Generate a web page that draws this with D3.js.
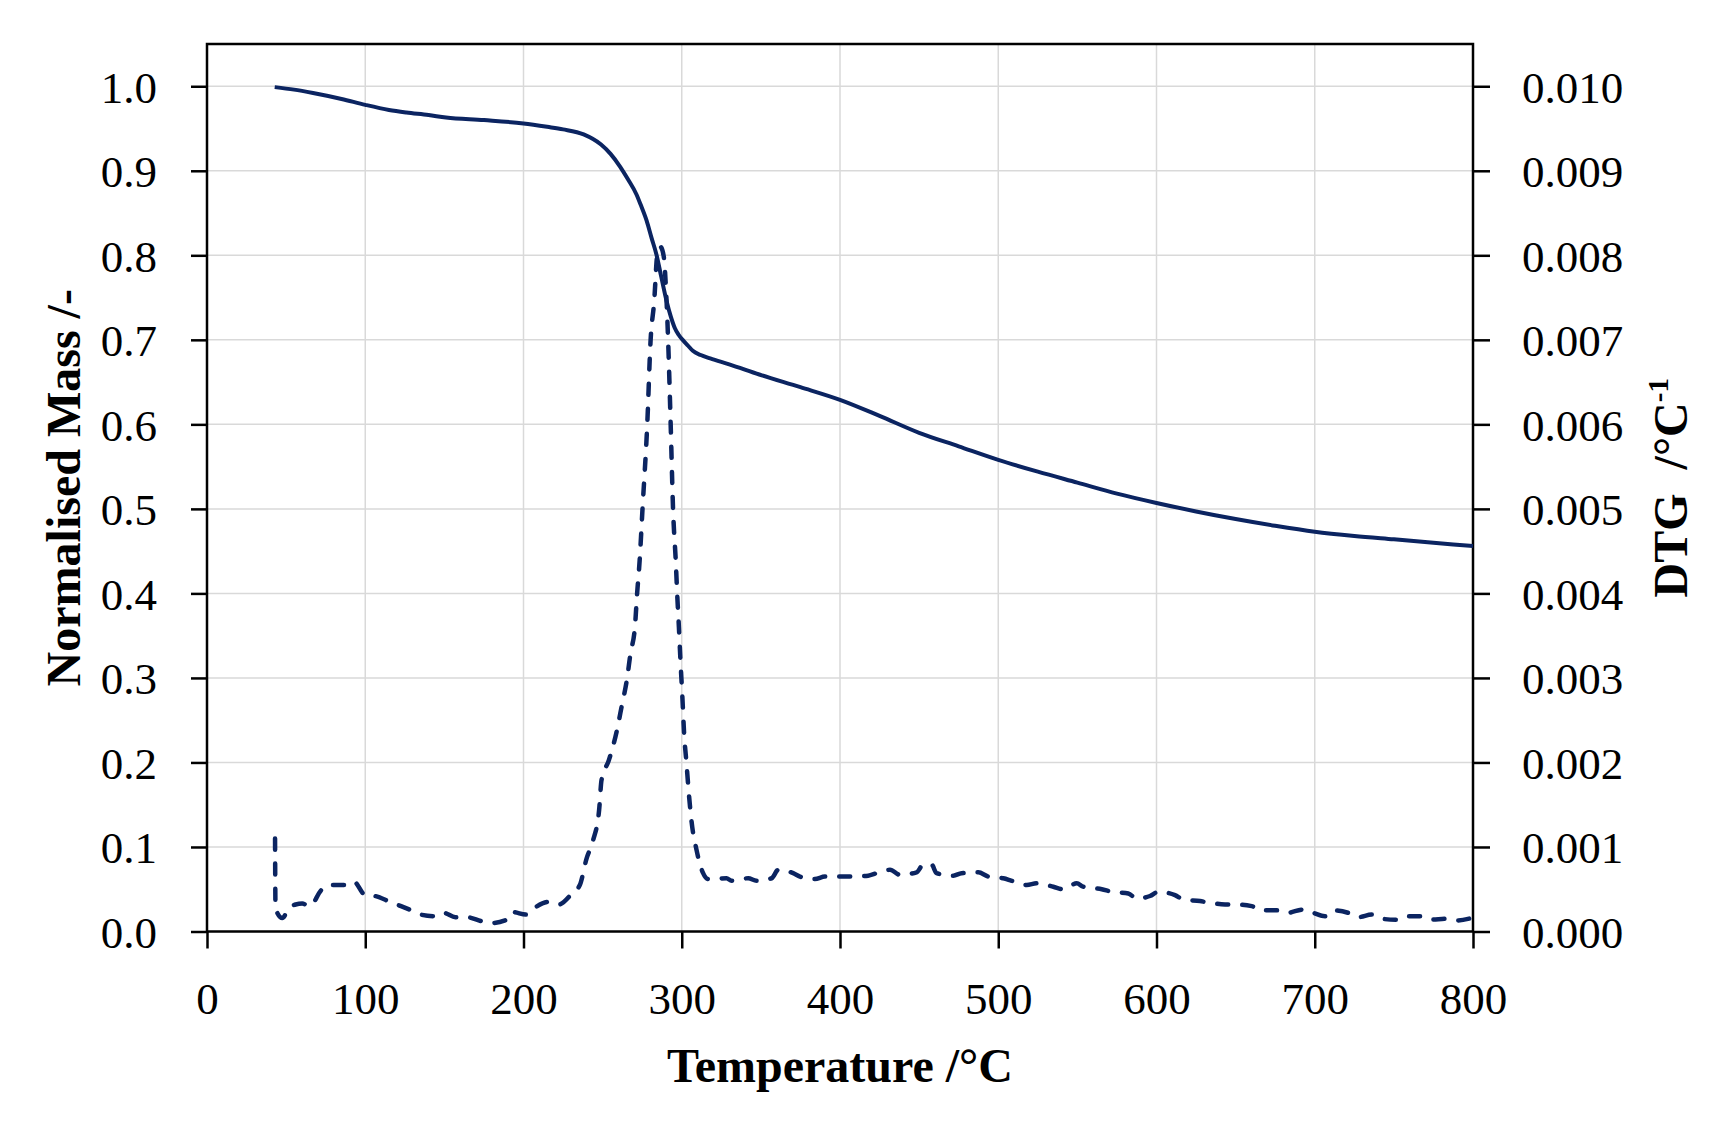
<!DOCTYPE html>
<html>
<head>
<meta charset="utf-8">
<script src="https://cdn.jsdelivr.net/npm/d3@7"></script>
<style>
  html, body { margin: 0; padding: 0; background: #fff; }
  svg { display: block; }
</style>
</head>
<body>
<div id="chart"></div>
<script>
// normalised mass (solid line, left axis)
const massTemp = [42.8, 55, 67, 85, 100, 115, 126, 140, 151, 175, 200, 215, 225, 238, 249, 255, 261, 266,
  271.4, 274, 277.8, 281, 284, 287, 290.4, 293, 295.6, 298, 301, 304, 307, 312, 318, 330, 349, 375, 400,
  425, 450, 475, 500, 525, 550, 575, 600, 625, 650, 675, 700, 725, 750, 775, 800];
const massValues = [0.999, 0.996, 0.992, 0.985, 0.978, 0.972, 0.969, 0.966, 0.963, 0.960, 0.956, 0.952, 0.949,
  0.943, 0.931, 0.920, 0.905, 0.890, 0.872, 0.860, 0.841, 0.820, 0.801, 0.775, 0.746, 0.728, 0.714, 0.706,
  0.699, 0.693, 0.687, 0.682, 0.678, 0.671, 0.659, 0.644, 0.629, 0.610, 0.590, 0.574, 0.558, 0.544, 0.531,
  0.518, 0.507, 0.497, 0.488, 0.480, 0.473, 0.468, 0.464, 0.460, 0.456];

// DTG (dashed line, right axis)
const dtgTemp = [43.0, 43.3, 47.6, 51.6, 56, 60.2, 65, 72.2, 77, 86.8, 92.7, 100, 106, 115.8, 122.6, 131.5, 135,
  144.8, 149.6, 157, 164, 173.8, 180, 189.5, 193, 201.7, 207.8, 216, 222.3, 230.7, 235.6, 239.8, 244, 247.8,
  249.3, 254, 258.8, 262, 265.5, 267.6, 270.4, 271.8, 273.4, 275.2, 278.2, 280.3, 282.6, 284.5, 286.5, 288.5,
  290.4, 291.4, 293, 294.5, 296.3, 297.1, 298.2, 299.2, 300.3, 301.5, 303, 304.5, 306.2, 309.4, 313.5, 316.7,
  328.3, 331.5, 342, 347.3, 356.8, 361, 370.4, 374.7, 384.1, 390.5, 401, 407.3, 417.8, 423.1, 431.6, 437.9,
  448.4, 452.6, 457.9, 461, 471.6, 476.8, 487.4, 493.7, 503.2, 508.5, 518, 524.3, 534.8, 541.1, 549.6, 553.7,
  565.4, 571.7, 582.2, 587.5, 595.9, 601.2, 611.7, 617, 627.5, 633.8, 643.3, 648.6, 660.2, 665.4, 676, 682.3,
  692.8, 699.1, 706.5, 711.8, 721.3, 727.6, 736, 742.4, 751.8, 757.1, 766.6, 772.9, 783.4, 789.8, 799.2];
const dtgValues = [0.00110, 0.00027, 0.00016, 0.00027, 0.00032, 0.00033, 0.00030, 0.00049, 0.00055, 0.00055,
  0.00059, 0.00043, 0.00042, 0.00035, 0.00030, 0.00023, 0.00020, 0.00018, 0.00022, 0.00017, 0.00017, 0.00012,
  0.00010, 0.00014, 0.00023, 0.00020, 0.00029, 0.00035, 0.00032, 0.00045, 0.00055, 0.00086, 0.00108, 0.00144,
  0.00179, 0.00203, 0.00236, 0.00266, 0.00300, 0.00329, 0.00360, 0.00400, 0.00439, 0.00500, 0.00600, 0.00699,
  0.00746, 0.00800, 0.00810, 0.00800, 0.00746, 0.00699, 0.00600, 0.00500, 0.00435, 0.00400, 0.00360, 0.00320,
  0.00281, 0.00234, 0.00199, 0.00163, 0.00130, 0.00096, 0.00069, 0.00062, 0.00063, 0.00060, 0.00063, 0.00060,
  0.00063, 0.00073, 0.00069, 0.00065, 0.00062, 0.00065, 0.00065, 0.00065, 0.00066, 0.00069, 0.00073, 0.00067,
  0.00070, 0.00079, 0.00079, 0.00069, 0.00066, 0.00069, 0.00070, 0.00065, 0.00063, 0.00060, 0.00055, 0.00057,
  0.00053, 0.00050, 0.00057, 0.00053, 0.00050, 0.00047, 0.00045, 0.00039, 0.00042, 0.00047, 0.00043, 0.00038,
  0.00036, 0.00034, 0.00032, 0.00032, 0.00030, 0.00025, 0.00025, 0.00022, 0.00026, 0.00022, 0.00018, 0.00025,
  0.00022, 0.00017, 0.00020, 0.00015, 0.00014, 0.00018, 0.00018, 0.00014, 0.00015, 0.00013, 0.00016];

const xTicks = [0, 100, 200, 300, 400, 500, 600, 700, 800];
const massTicks = [0, 0.1, 0.2, 0.3, 0.4, 0.5, 0.6, 0.7, 0.8, 0.9, 1.0];
const dtgTicks = [0, 0.001, 0.002, 0.003, 0.004, 0.005, 0.006, 0.007, 0.008, 0.009, 0.010];

const width = 1728, height = 1129;
const margin = { top: 44, right: 255, bottom: 197.5, left: 207 };
const innerW = width - margin.left - margin.right;
const innerH = height - margin.top - margin.bottom;
const lineColor = '#0b2461';
const fontFamily = '"Palatino Linotype", "Book Antiqua", Palatino, "Liberation Serif", serif';

const x = d3.scaleLinear().domain([0, 800]).range([0, innerW]);
const yMass = d3.scaleLinear().domain([0, 1.05]).range([innerH, 0]);
const yDtg = d3.scaleLinear().domain([0, 0.0105]).range([innerH, 0]);

const svg = d3.select('#chart')
  .append('svg')
  .attr('width', width)
  .attr('height', height)
  .attr('font-family', fontFamily);

const g = svg.append('g')
  .attr('transform', `translate(${margin.left},${margin.top})`);

// grid
g.append('g')
  .selectAll('line')
  .data(xTicks.slice(1, -1))
  .join('line')
  .attr('x1', d => x(d)).attr('x2', d => x(d))
  .attr('y1', 0).attr('y2', innerH)
  .attr('stroke', '#d9d9d9')
  .attr('stroke-width', 1.5);

g.append('g')
  .selectAll('line')
  .data(massTicks.slice(1))
  .join('line')
  .attr('x1', 0).attr('x2', innerW)
  .attr('y1', d => yMass(d)).attr('y2', d => yMass(d))
  .attr('stroke', '#d9d9d9')
  .attr('stroke-width', 1.5);

// axes
const styleAxis = sel => {
  sel.select('.domain').remove();
  sel.selectAll('.tick line').attr('stroke', '#000').attr('stroke-width', 2.5);
  sel.selectAll('.tick text')
    .attr('fill', '#000')
    .attr('font-size', 45)
    .attr('font-family', fontFamily);
};

const xAxis = g.append('g')
  .attr('transform', `translate(0,${innerH})`)
  .call(d3.axisBottom(x).tickValues(xTicks).tickSize(17).tickSizeOuter(0).tickFormat(d3.format('d')))
  .call(styleAxis);
xAxis.selectAll('.tick text').attr('y', 82).attr('dy', 0);

const leftAxis = g.append('g')
  .call(d3.axisLeft(yMass).tickValues(massTicks).tickSize(16).tickSizeOuter(0).tickFormat(d3.format('.1f')))
  .call(styleAxis);
leftAxis.selectAll('.tick text').attr('x', -50).attr('dy', '0.35em');

const rightAxis = g.append('g')
  .attr('transform', `translate(${innerW},0)`)
  .call(d3.axisRight(yDtg).tickValues(dtgTicks).tickSize(17).tickSizeOuter(0).tickFormat(d3.format('.3f')))
  .call(styleAxis);
rightAxis.selectAll('.tick text').attr('x', 49).attr('dy', '0.35em');

// frame
g.append('rect')
  .attr('x', 0).attr('y', 0)
  .attr('width', innerW).attr('height', innerH)
  .attr('fill', 'none')
  .attr('stroke', '#000')
  .attr('stroke-width', 2.5);

// data lines
const massLine = d3.line()
  .x((d, i) => x(massTemp[i]))
  .y(d => yMass(d))
  .curve(d3.curveMonotoneX);

g.append('path')
  .datum(massValues)
  .attr('d', massLine)
  .attr('fill', 'none')
  .attr('stroke', lineColor)
  .attr('stroke-width', 4)
  .attr('stroke-linejoin', 'round');

const dtgLine = d3.line()
  .x((d, i) => x(dtgTemp[i]))
  .y(d => yDtg(d))
  .curve(d3.curveMonotoneX);

g.append('path')
  .datum(dtgValues)
  .attr('d', dtgLine)
  .attr('fill', 'none')
  .attr('stroke', lineColor)
  .attr('stroke-width', 4.5)
  .attr('stroke-linecap', 'round')
  .attr('stroke-dasharray', '11 14');

// titles
svg.append('text')
  .attr('x', margin.left + innerW / 2)
  .attr('y', 1082)
  .attr('text-anchor', 'middle')
  .attr('font-size', 48)
  .attr('font-weight', 'bold')
  .text('Temperature /°C');

svg.append('text')
  .attr('transform', `translate(80,${margin.top + innerH / 2}) rotate(-90)`)
  .attr('text-anchor', 'middle')
  .attr('font-size', 48)
  .attr('font-weight', 'bold')
  .text('Normalised Mass /-');

const dtgTitle = svg.append('text')
  .attr('transform', `translate(1687,${margin.top + innerH / 2}) rotate(-90)`)
  .attr('text-anchor', 'middle')
  .attr('font-size', 48)
  .attr('font-weight', 'bold')
  .attr('xml:space', 'preserve')
  .style('white-space', 'pre');
dtgTitle.append('tspan').text('DTG  /°C');
dtgTitle.append('tspan').attr('dy', -19).attr('font-size', 29).text('-1');
</script>
</body>
</html>
